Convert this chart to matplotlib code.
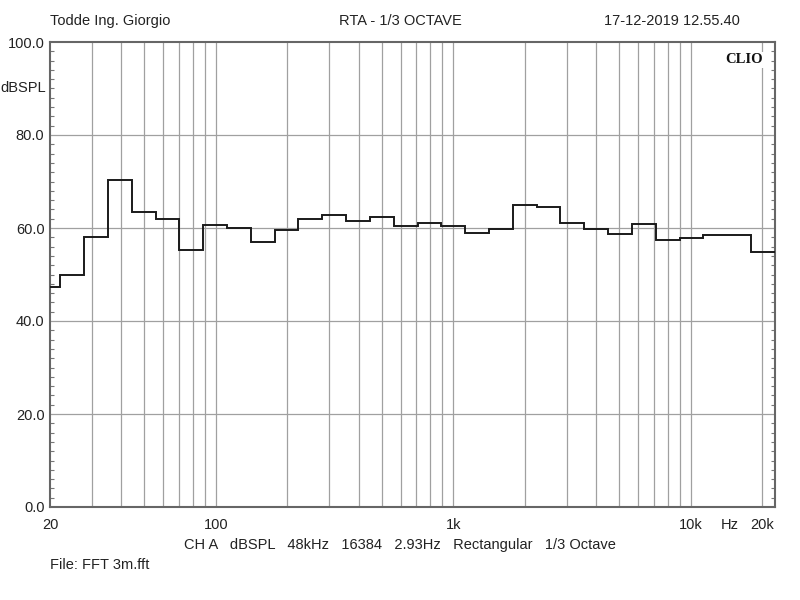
import numpy as np
import matplotlib
matplotlib.use("Agg")
import matplotlib.pyplot as plt
from matplotlib.ticker import FixedLocator, MultipleLocator, NullFormatter

# 1/3 octave band centres (Hz) and measured levels (dBSPL)
bands = [20, 25, 31.5, 40, 50, 63, 80, 100, 125, 160, 200, 250, 315, 400, 500,
         630, 800, 1000, 1250, 1600, 2000, 2500, 3150, 4000, 5000, 6300, 8000,
         10000, 12500, 16000, 20000]
levels = [47.4, 50.0, 58.1, 70.3, 63.4, 61.9, 55.3, 60.6, 60.1, 57.0, 59.5,
          61.9, 62.7, 61.4, 62.3, 60.4, 61.0, 60.4, 58.9, 59.8, 64.9, 64.5,
          61.1, 59.8, 58.7, 60.8, 57.4, 57.9, 58.6, 58.6, 54.8]

grid_freqs = [30, 40, 50, 60, 70, 80, 90, 100, 200, 300, 400, 500, 600, 700,
              800, 900, 1000, 2000, 3000, 4000, 5000, 6000, 7000, 8000, 9000,
              10000, 20000]
x_ticks = [20, 100, 1000, 10000, 20000]
x_labels = ["20", "100", "1k", "10k", "20k"]
y_ticks = [0, 20, 40, 60, 80, 100]

plt.rcParams['font.family'] = ['Liberation Sans Narrow', 'Liberation Sans', 'DejaVu Sans']

# exact base-2 centres to get the band edges
centres = 1000 * 2 ** ((np.arange(len(bands)) - 17) / 3)
edges = np.append(centres / 2 ** (1 / 6), centres[-1] * 2 ** (1 / 6))

fig = plt.figure(figsize=(8, 6), dpi=100)
ax = fig.add_axes([0.0625, 0.155, 0.906, 0.775])

grid_col = "#a0a0a0"
for f in grid_freqs:
    ax.axvline(f, color=grid_col, lw=0.9, zorder=1)
for v in [20, 40, 60, 80]:
    ax.axhline(v, color=grid_col, lw=0.9, zorder=1)

ax.stairs(levels, edges, baseline=None, color="#1a1a1a", lw=1.4, zorder=3)

ax.set_xscale("log")
ax.set_xlim(20, edges[-1])
ax.set_ylim(0, 100)

ax.xaxis.set_major_locator(FixedLocator(x_ticks))
ax.xaxis.set_minor_locator(FixedLocator([]))
ax.xaxis.set_minor_formatter(NullFormatter())
ax.set_xticklabels(x_labels)
ax.tick_params(axis="x", length=0, pad=8, labelsize=10.5, colors="#222222")

ax.set_yticks(y_ticks)
ax.set_yticklabels([f"{v:.1f}" for v in y_ticks])
ax.yaxis.set_minor_locator(MultipleLocator(2))
ax.tick_params(axis="y", which="major", length=0, pad=4, labelsize=10.5, colors="#222222")
ax.tick_params(axis="y", which="minor", direction="in", length=3, width=0.8,
               color="#777777", left=True, right=True)

for s in ax.spines.values():
    s.set_color("#666666")
    s.set_linewidth(1.5)

ax.text(-0.006, 0.9, "dBSPL", transform=ax.transAxes, ha="right", va="center",
        fontsize=10.5, color="#222222")
ax.text(0.9385, -0.0235, "Hz", transform=ax.transAxes, ha="center", va="top",
        fontsize=10.5, color="#222222")
ax.text(0.983, 0.976, "CLIO", transform=ax.transAxes, ha="right", va="top",
        fontsize=10.5, fontweight="bold", family=["Liberation Serif", "DejaVu Serif"],
        color="#111111", zorder=5, bbox=dict(facecolor="white", edgecolor="none", pad=1))

fig.text(0.0625, 0.965, "Todde Ing. Giorgio", ha="left", va="center", fontsize=10.5, color="#222222")
fig.text(0.5, 0.965, "RTA - 1/3 OCTAVE", ha="center", va="center", fontsize=10.5, color="#222222")
fig.text(0.925, 0.965, "17-12-2019 12.55.40", ha="right", va="center", fontsize=10.5, color="#222222")
fig.text(0.5, 0.092, "CH A   dBSPL   48kHz   16384   2.93Hz   Rectangular   1/3 Octave",
         ha="center", va="center", fontsize=10.5, color="#222222")
fig.text(0.0625, 0.058, "File: FFT 3m.fft", ha="left", va="center", fontsize=10.5, color="#222222")

fig.savefig("out.png", dpi=100, facecolor="white")
